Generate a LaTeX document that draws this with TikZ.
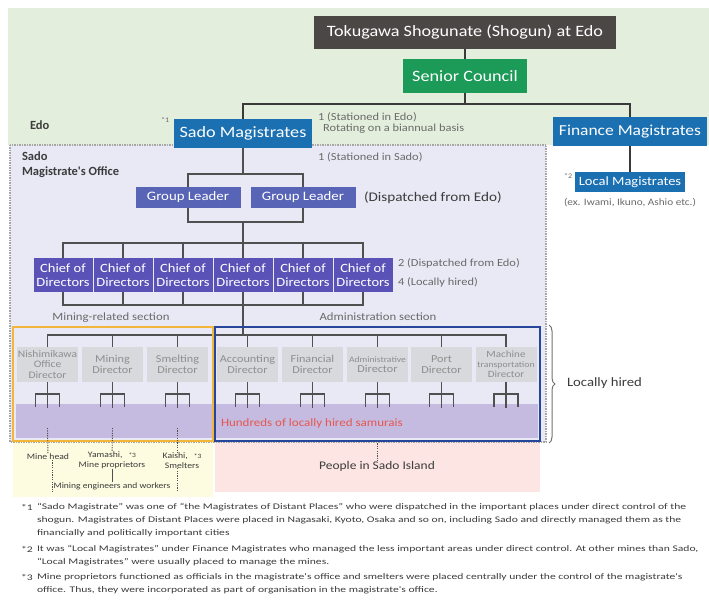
\documentclass[tikz,border=0pt]{standalone}
\usepackage{fontspec}
\setmainfont[FakeStretch=1.15]{Carlito}
\newfontfamily\widefont[FakeStretch=1.35]{Carlito}
\newfontfamily\plainfont{Carlito}
\usetikzlibrary{decorations.pathreplacing}
\definecolor{edogreen}{HTML}{E3EFDC}
\definecolor{sadolav}{HTML}{E8E9F5}
\definecolor{shogungray}{HTML}{4B4745}
\definecolor{councilgreen}{HTML}{1C9A57}
\definecolor{magblue}{HTML}{1B70B2}
\definecolor{glblue}{HTML}{5864B6}
\definecolor{chiefpurple}{HTML}{5B52B7}
\definecolor{dirgray}{HTML}{D8D9DD}
\definecolor{dirtext}{HTML}{8E8E8E}
\definecolor{minorange}{HTML}{F2B63A}
\definecolor{admblue}{HTML}{26469B}
\definecolor{bandpurple}{HTML}{C5BBE0}
\definecolor{samred}{HTML}{E5564E}
\definecolor{yellowbg}{HTML}{FDFBE0}
\definecolor{pinkbg}{HTML}{FCE5E2}
\definecolor{linedark}{HTML}{3A3A3A}
\definecolor{linemid}{HTML}{505050}
\definecolor{labgray}{HTML}{6A6A6A}
\definecolor{txtdark}{HTML}{3C3C3C}
\begin{document}
\begin{tikzpicture}[x=1pt,y=-1pt,
  every node/.style={inner sep=0pt,outer sep=0pt},
  conn/.style={draw=linedark,line width=2pt},
  lconn/.style={draw=linemid,line width=1.5pt},
  dconn/.style={draw=linemid,line width=0.9pt,dash pattern=on 1.2pt off 1.2pt},
  shogunbox/.style={fill=shogungray,text=white,minimum width=302,minimum height=33,font=\fontsize{15.8}{18}\selectfont},
  councilbox/.style={fill=councilgreen,text=white,minimum width=124,minimum height=34,font=\fontsize{15.8}{18}\selectfont},
  magbox/.style={fill=magblue,text=white,minimum height=29,font=\fontsize{15.8}{18}\selectfont},
  glbox/.style={fill=glblue,text=white,minimum width=105,minimum height=21,font=\fontsize{12.9}{14}\selectfont},
  chiefbox/.style={fill=chiefpurple,text=white,minimum width=59,minimum height=34,align=center,font=\fontsize{12.6}{14}\selectfont},
  dirbox/.style={fill=dirgray,text=dirtext,minimum width=61,minimum height=35,align=center,font=\fontsize{10.6}{10.5}\selectfont},
  note/.style={text=labgray,anchor=west,font=\fontsize{10.8}{10.5}\selectfont},
  seclab/.style={text=labgray,font=\fontsize{11.1}{12}\selectfont},
  bottomlab/.style={text=txtdark,align=center,font=\fontsize{8.4}{9.5}\selectfont},
  fn/.style={text=txtdark,anchor=west,font=\widefont\fontsize{8.6}{10}\selectfont},
  title/.style={text=txtdark,anchor=west,align=left,font=\plainfont\bfseries\fontsize{12.5}{15}\selectfont}
]
\useasboundingbox (0,0) rectangle (709,601);
\fill[white] (0,0) rectangle (709,601);
% regions
\fill[edogreen] (8,8) rectangle (709,145);
\fill[sadolav] (10,145) rectangle (546,442);
\fill[yellowbg] (13,442) rectangle (213,497);
\fill[pinkbg] (215,442) rectangle (540,492);
\fill[bandpurple] (16,404) rectangle (538,438);
\draw[draw=gray!70,line width=1.1pt,dash pattern=on 1.5pt off 1pt] (10,145) rectangle (546,442);

% region titles
\node[title] (edolab) at (30,125) {Edo};
\node[title] (sadolab) at (22,165) {Sado\\Magistrate's Office};

% top boxes
\node[shogunbox] (shogun) at (465,32.5) {Tokugawa Shogunate (Shogun) at Edo};
\node[councilbox] (council) at (465,76) {Senior Council};
\node[magbox,minimum width=138] (sado) at (243,133.5) {Sado Magistrates};
\node[magbox,minimum width=154,font=\fontsize{15.2}{18}\selectfont] (finance) at (630,132) {Finance Magistrates};
\node[fill=magblue,text=white,minimum width=110,minimum height=20,font=\fontsize{12.6}{13}\selectfont] (local) at (630,182) {Local Magistrates};
\coordinate (j1) at (465,104);
\draw[conn] (shogun) -- (council);
\draw[conn] (council) -- (j1);
\draw[conn] (sado) |- (j1) -| (finance);
\draw[conn] (finance) -- (local);

\node[note,font=\fontsize{7}{8}\selectfont] (s1) at (161,120) {*1};
\node[note,anchor=north west,align=left] (edonote) at (318,113) {1 (Stationed in Edo)\\\hspace*{5pt}Rotating on a biannual basis};
\node[note] (sadonote) at (318,157) {1 (Stationed in Sado)};
\node[note,font=\fontsize{7}{8}\selectfont] (s2) at (564,176) {*2};
\node[text=labgray,font=\fontsize{9.8}{11}\selectfont] (exlab) at (630,203) {(ex. Iwami, Ikuno, Ashio etc.)};

% group leaders
\node[glbox] (gl1) at (188,197.5) {Group Leader};
\node[glbox] (gl2) at (303,197.5) {Group Leader};
\node[text=txtdark,anchor=west,font=\fontsize{13.2}{14}\selectfont] (dispgl) at (364,198) {(Dispatched from Edo)};
\coordinate (gtop) at (243,174);
\coordinate (gbot) at (243,222);
\coordinate (ctop) at (243,243);
\coordinate (cbot) at (243,305);
\coordinate (dtop) at (243,335);
\draw[lconn] (sado) -- (gtop);
\draw[lconn] (gl1) |- (gtop) -| (gl2);
\draw[lconn] (gl1) |- (gbot) -| (gl2);
\draw[lconn] (gbot) -- (ctop);

% chiefs
\foreach \i/\x in {1/63,2/123,3/183,4/243,5/303,6/363}{
  \node[chiefbox] (c\i) at (\x,275) {Chief of\\Directors};
}
\draw[lconn] (c1) |- (c6 |- ctop) -- (c6);
\draw[lconn] (c1) |- (c6 |- cbot) -- (c6);
\foreach \i in {2,...,5}{
  \draw[lconn] (c\i) -- (c\i |- ctop);
  \draw[lconn] (c\i) -- (c\i |- cbot);
}
\draw[lconn] (cbot) -- (dtop);
\node[note] (n2) at (398,263) {2 (Dispatched from Edo)};
\node[note] (n4) at (398,282) {4 (Locally hired)};

% section labels
\node[seclab] (minsec) at (111,318) {Mining-related section};
\node[seclab] (admsec) at (378,317) {Administration section};

% directors
\node[dirbox,font=\fontsize{10}{10.5}\selectfont] (d1) at (47.5,364.5) {Nishimikawa\\Office\\Director};
\node[dirbox] (d2) at (112.5,364.5) {Mining\\Director};
\node[dirbox] (d3) at (177.5,364.5) {Smelting\\Director};
\node[dirbox] (d4) at (247.5,364.5) {Accounting\\Director};
\node[dirbox] (d5) at (312.5,364.5) {Financial\\Director};
\node[dirbox,font=\fontsize{8.4}{10.5}\selectfont] (d6) at (377.5,364.5) {Administrative\\{\fontsize{10.6}{10.5}\selectfont Director}};
\node[dirbox] (d7) at (441.5,364.5) {Port\\Director};
\node[dirbox,font=\fontsize{9.6}{10.2}\selectfont] (d8) at (506,364.5) {Machine\\{\fontsize{8.5}{10}\selectfont transportation}\\Director};
\draw[lconn] (d1) |- (d8 |- dtop) -- (d8);
\foreach \i in {2,...,7}{
  \draw[lconn] (d\i) -- (d\i |- dtop);
}
\foreach \i in {1,...,8}{
  \draw[linemid,line width=1.3pt] (d\i.south) -- ++(0,26);
  \draw[linemid,line width=1.3pt] ([shift={(-12,25)}]d\i.south) -- ++(0,-13) -- ++(24,0) -- ++(0,13);
}

% section frames
\draw[minorange,line width=2.5pt] (13,327) rectangle (213,441);
\draw[admblue,line width=2.5pt] (215,327) rectangle (540,441);
\node[text=samred,anchor=west,font=\fontsize{11.3}{12}\selectfont] (samurai) at (221,423) {Hundreds of locally hired samurais};

% locally hired brace
\coordinate (bra) at (549,325);
\coordinate (brb) at (549,443);
\draw[linemid!80,line width=1pt,decorate,decoration={brace,amplitude=6pt}] (bra) -- (brb);
\node[text=txtdark,anchor=west,font=\fontsize{12.8}{14}\selectfont] (lochired) at (567,383) {Locally hired};

% bottom: mining people
\node[bottomlab] (minehead) at (48,457) {Mine head};
\node[bottomlab] (yamashi) at (112,460.5) {Yamashi,\hspace{6pt}{\fontsize{6.5}{7}\selectfont*3}\\Mine proprietors};
\node[bottomlab] (kaishi) at (182,460.5) {Kaishi,\hspace{6pt}{\fontsize{6.5}{7}\selectfont*3}\\Smelters};
\node[bottomlab,font=\fontsize{8.3}{9}\selectfont] (workers) at (112,486) {Mining engineers and workers};
\draw[dconn] (d1 |- 0,428) -- (minehead);
\draw[dconn] (d2 |- 0,428) -- (yamashi);
\draw[dconn] (d3 |- 0,428) -- (kaishi.north -| d3);
\draw[dconn] (minehead.south -| 52,0) -- (52,492);
\draw[dconn] (kaishi.south -| 177,0) -- (177,492);
\draw[linemid,line width=0.8pt] (yamashi) -- (workers);

% people
\node[text=txtdark,font=\fontsize{11.7}{13}\selectfont] (people) at (377,466) {People in Sado Island};
\draw[dconn] (377,441) -- (people);

% footnotes
\node[fn] (f1a) at (21,507) {*1};
\node[fn] (f1b) at (37,507) {“Sado Magistrate” was one of “the Magistrates of Distant Places” who were dispatched in the important places under direct control of the};
\node[fn] (f1c) at (37,520) {shogun. Magistrates of Distant Places were placed in Nagasaki, Kyoto, Osaka and so on, including Sado and directly managed them as the};
\node[fn] (f1d) at (37,533) {financially and politically important cities};
\node[fn] (f2a) at (21,549) {*2};
\node[fn] (f2b) at (37,549) {It was “Local Magistrates” under Finance Magistrates who managed the less important areas under direct control. At other mines than Sado,};
\node[fn] (f2c) at (37,562) {“Local Magistrates” were usually placed to manage the mines.};
\node[fn] (f3a) at (21,577) {*3};
\node[fn] (f3b) at (37,577) {Mine proprietors functioned as officials in the magistrate's office and smelters were placed centrally under the control of the magistrate's};
\node[fn] (f3c) at (37,590) {office. Thus, they were incorporated as part of organisation in the magistrate's office.};
\end{tikzpicture}
\end{document}
